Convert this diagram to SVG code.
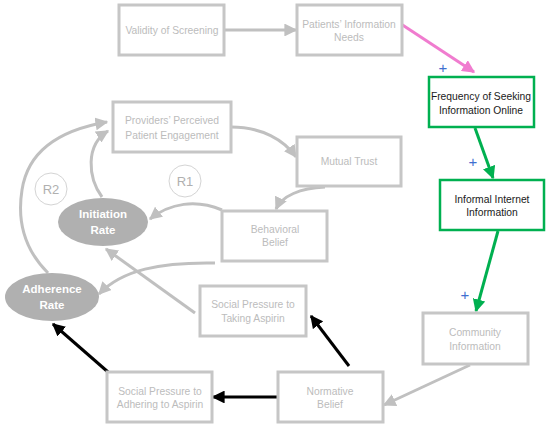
<svg xmlns="http://www.w3.org/2000/svg" width="550" height="428" viewBox="0 0 550 428">
<style>
.box rect{fill:#fff;stroke:#c6c6c6;stroke-width:3}
.gbox rect{fill:#fff;stroke:#00b050;stroke-width:2.5}
text{font-family:"Liberation Sans",Arial,sans-serif;font-size:10.3px;text-anchor:middle;dominant-baseline:central}
.box text{fill:#bcbcbc}
.gbox text{fill:#1a1a1a}
.ell ellipse{fill:#b0b0b0}
.ell text{fill:#fff;font-weight:bold;font-size:11.5px}
.loop circle{fill:#fff;stroke:#d4d4d4;stroke-width:1}
.loop text{fill:#b0b0b0;font-size:13px}
text.plus{fill:#3f6fd0;font-size:15px}
.c path{fill:none;stroke-width:3}
.g{stroke:#c0c0c0}
.k{stroke:#000}
.gr{stroke:#00b050}
.p{stroke:#f07ccf}
</style>
<defs>
<marker id="ag" viewBox="0 0 10 10" refX="9" refY="5" markerWidth="4.3" markerHeight="4.3" orient="auto" markerUnits="strokeWidth"><path d="M0,0 L10,5 L0,10 z" fill="#c0c0c0"/></marker>
<marker id="ak" viewBox="0 0 10 10" refX="9" refY="5" markerWidth="4.3" markerHeight="4.3" orient="auto" markerUnits="strokeWidth"><path d="M0,0 L10,5 L0,10 z" fill="#000"/></marker>
<marker id="agr" viewBox="0 0 10 10" refX="9" refY="5" markerWidth="4.3" markerHeight="4.3" orient="auto" markerUnits="strokeWidth"><path d="M0,0 L10,5 L0,10 z" fill="#00b050"/></marker>
<marker id="ap" viewBox="0 0 10 10" refX="9" refY="5" markerWidth="4.3" markerHeight="4.3" orient="auto" markerUnits="strokeWidth"><path d="M0,0 L10,5 L0,10 z" fill="#f07ccf"/></marker>
</defs>
<g id="connectors" class="c">
<path class="g" d="M224,30 L296,30" marker-end="url(#ag)"/>
<path class="p" d="M401,24 L474,72" marker-end="url(#ap)"/>
<path class="gr" d="M475,128 L493,178" marker-end="url(#agr)"/>
<path class="gr" d="M498,231 L476,311" marker-end="url(#agr)"/>
<path class="g" d="M470,365 L384,405" marker-end="url(#ag)"/>
<path class="k" d="M349,366 L311,316" marker-end="url(#ak)"/>
<path class="k" d="M278,397 L213,397" marker-end="url(#ak)"/>
<path class="k" d="M108,372 L53,324" marker-end="url(#ak)"/>
<path class="g" d="M231,127 C262,127 284,140 296,157" marker-end="url(#ag)"/>
<path class="g" d="M325,187 C300,188 282,196 276,209" marker-end="url(#ag)"/>
<path class="g" d="M222,210 C196,199 170,203 150,219" marker-end="url(#ag)"/>
<path class="g" d="M215,263 C160,262 122,270 99,294" marker-end="url(#ag)"/>
<path class="g" d="M195,313 L106,249" marker-end="url(#ag)"/>
<path class="g" d="M102,197 C88,178 85,145 108,131" marker-end="url(#ag)"/>
<path class="g" d="M48,273 C20,245 18,215 22,190 C28,150 60,130 107,122" marker-end="url(#ag)"/>
</g>
<g id="validity" class="box"><rect x="119" y="5" width="105" height="50"/><text x="172" y="30">Validity of Screening</text></g>
<g id="patients" class="box"><rect x="297" y="5" width="105" height="50"/><text x="349" y="24">Patients’ Information</text><text x="349" y="37">Needs</text></g>
<g id="frequency" class="gbox"><rect x="429" y="77" width="105" height="50"/><text x="481" y="96">Frequency of Seeking</text><text x="481" y="110">Information Online</text></g>
<g id="informal" class="gbox"><rect x="440" y="180" width="104" height="50"/><text x="492" y="199">Informal Internet</text><text x="492" y="212">Information</text></g>
<g id="community" class="box"><rect x="423" y="313" width="105" height="51"/><text x="475" y="332">Community</text><text x="475" y="346">Information</text></g>
<g id="normative" class="box"><rect x="278" y="372" width="105" height="50"/><text x="330" y="391">Normative</text><text x="330" y="404">Belief</text></g>
<g id="adhering" class="box"><rect x="107" y="372" width="105" height="50"/><text x="160" y="391">Social Pressure to</text><text x="160" y="404">Adhering to Aspirin</text></g>
<g id="taking" class="box"><rect x="200" y="286" width="106" height="50"/><text x="253" y="304">Social Pressure to</text><text x="253" y="318">Taking Aspirin</text></g>
<g id="behavioral" class="box"><rect x="222" y="211" width="105" height="50"/><text x="275" y="229">Behavioral</text><text x="275" y="242">Belief</text></g>
<g id="mutual" class="box"><rect x="297" y="137" width="104" height="49"/><text x="349" y="161">Mutual Trust</text></g>
<g id="providers" class="box"><rect x="113" y="102" width="118" height="50"/><text x="172" y="120">Providers’ Perceived</text><text x="172" y="135">Patient Engagement</text></g>
<g id="initiation" class="ell"><ellipse cx="103" cy="222" rx="45" ry="24"/><text x="103" y="214">Initiation</text><text x="103" y="230">Rate</text></g>
<g id="adherence" class="ell"><ellipse cx="52" cy="297" rx="47" ry="24"/><text x="52" y="289">Adherence</text><text x="52" y="305">Rate</text></g>
<g id="r1" class="loop"><circle cx="185" cy="181" r="16"/><text x="185" y="181">R1</text></g>
<g id="r2" class="loop"><circle cx="51" cy="189" r="16"/><text x="51" y="189">R2</text></g>
<g id="signs">
<text class="plus" x="443" y="67">+</text>
<text class="plus" x="473" y="161">+</text>
<text class="plus" x="465" y="294">+</text>
</g>
</svg>
